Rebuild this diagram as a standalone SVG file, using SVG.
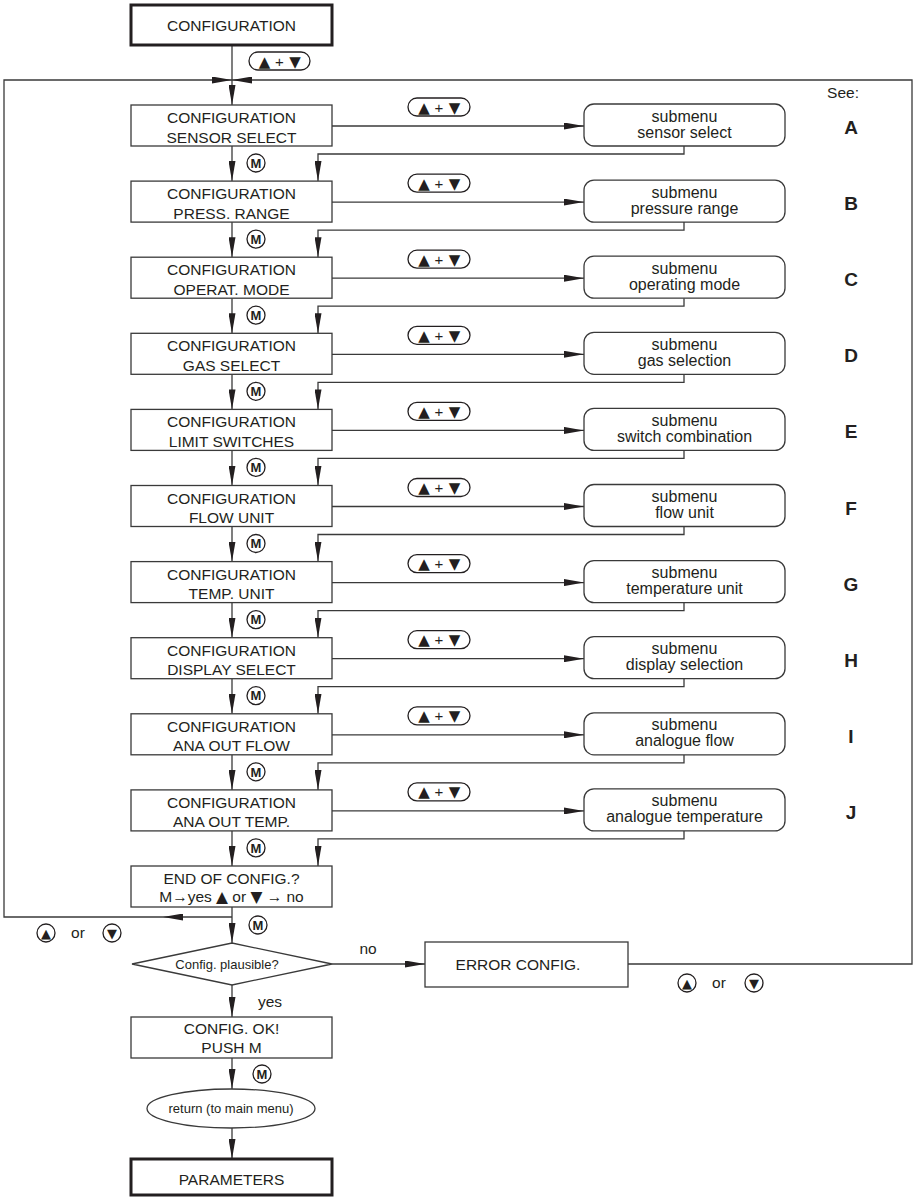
<svg xmlns="http://www.w3.org/2000/svg" width="917" height="1197" viewBox="0 0 917 1197">
<style>
text{font-family:"Liberation Sans","DejaVu Sans",Arial,sans-serif;fill:#231f20}
.t{font-size:15.5px;text-anchor:middle}
.s{font-size:16px;text-anchor:middle}
.sm{font-size:13px;text-anchor:middle}
.p{font-size:15px;text-anchor:middle}
.tri{font-family:"DejaVu Sans",sans-serif}
.lt{font-size:19px;font-weight:bold;text-anchor:middle}
.m{font-size:13px;font-weight:bold;text-anchor:middle}
.ic{font-size:13px;text-anchor:middle;font-family:"DejaVu Sans",sans-serif}
.box{fill:#fff;stroke:#3a3a3a;stroke-width:1.3}
.thick{fill:#fff;stroke:#231f20;stroke-width:3}
.sub{fill:#fff;stroke:#3a3a3a;stroke-width:1.3}
.pill{fill:#fff;stroke:#231f20;stroke-width:1.3}
.circ{fill:#fff;stroke:#231f20;stroke-width:1.3}
.ln{fill:none;stroke:#3a3a3a;stroke-width:1.3}
</style>
<defs>
<marker id="ah" markerUnits="userSpaceOnUse" markerWidth="20" markerHeight="7" refX="20" refY="3.5" orient="auto">
<path d="M0,0 L20,3.5 L0,7 Z" fill="#231f20"/>
</marker>
</defs>

<g id="connectors">
<path class="ln" d="M232,45 V105" marker-end="url(#ah)"/>
<path class="ln" d="M163,917 H4 V80 H232" marker-end="url(#ah)"/>
<path class="ln" d="M628,964 H912 V80 H232" marker-end="url(#ah)"/>
<path class="ln" d="M232,146 V181.1" marker-end="url(#ah)"/>
<path class="ln" d="M232,222.1 V257.2" marker-end="url(#ah)"/>
<path class="ln" d="M232,298.2 V333.3" marker-end="url(#ah)"/>
<path class="ln" d="M232,374.3 V409.4" marker-end="url(#ah)"/>
<path class="ln" d="M232,450.4 V485.5" marker-end="url(#ah)"/>
<path class="ln" d="M232,526.5 V561.6" marker-end="url(#ah)"/>
<path class="ln" d="M232,602.6 V637.7" marker-end="url(#ah)"/>
<path class="ln" d="M232,678.7 V713.8" marker-end="url(#ah)"/>
<path class="ln" d="M232,754.8 V789.9" marker-end="url(#ah)"/>
<path class="ln" d="M232,830.9 V866" marker-end="url(#ah)"/>
<path class="ln" d="M332,126 H584" marker-end="url(#ah)"/>
<path class="ln" d="M332,202.1 H584" marker-end="url(#ah)"/>
<path class="ln" d="M332,278.2 H584" marker-end="url(#ah)"/>
<path class="ln" d="M332,354.3 H584" marker-end="url(#ah)"/>
<path class="ln" d="M332,430.4 H584" marker-end="url(#ah)"/>
<path class="ln" d="M332,506.5 H584" marker-end="url(#ah)"/>
<path class="ln" d="M332,582.6 H584" marker-end="url(#ah)"/>
<path class="ln" d="M332,658.7 H584" marker-end="url(#ah)"/>
<path class="ln" d="M332,734.8 H584" marker-end="url(#ah)"/>
<path class="ln" d="M332,810.9 H584" marker-end="url(#ah)"/>
<path class="ln" d="M684,146 V154 H318 V181.1" marker-end="url(#ah)"/>
<path class="ln" d="M684,222.1 V230.1 H318 V257.2" marker-end="url(#ah)"/>
<path class="ln" d="M684,298.2 V306.2 H318 V333.3" marker-end="url(#ah)"/>
<path class="ln" d="M684,374.3 V382.3 H318 V409.4" marker-end="url(#ah)"/>
<path class="ln" d="M684,450.4 V458.4 H318 V485.5" marker-end="url(#ah)"/>
<path class="ln" d="M684,526.5 V534.5 H318 V561.6" marker-end="url(#ah)"/>
<path class="ln" d="M684,602.6 V610.6 H318 V637.7" marker-end="url(#ah)"/>
<path class="ln" d="M684,678.7 V686.7 H318 V713.8" marker-end="url(#ah)"/>
<path class="ln" d="M684,754.8 V762.8 H318 V789.9" marker-end="url(#ah)"/>
<path class="ln" d="M684,830.9 V838.9 H318 V866" marker-end="url(#ah)"/>
<path class="ln" d="M232,907 V943" marker-end="url(#ah)"/>
<path class="ln" d="M232,917 H163" marker-end="url(#ah)"/>
<path class="ln" d="M332,964 H425" marker-end="url(#ah)"/>
<path class="ln" d="M232,985 V1017" marker-end="url(#ah)"/>
<path class="ln" d="M232,1058 V1089" marker-end="url(#ah)"/>
<path class="ln" d="M232,1128 V1159" marker-end="url(#ah)"/>
</g>

<g id="labels">
<rect class="pill" x="249" y="52" width="61" height="18" rx="9"/>
<text class="p" y="66.5"><tspan class="tri" x="264.5">▲</tspan><tspan x="279.5">+</tspan><tspan class="tri" x="295">▼</tspan></text>
<text class="t" x="843" y="98">See:</text>
<g><rect class="pill" x="408" y="98" width="62" height="18" rx="9"/><text class="p" y="112.5"><tspan class="tri" x="424">▲</tspan><tspan x="439">+</tspan><tspan class="tri" x="454.5">▼</tspan></text></g>
<g><rect class="pill" x="408" y="174.1" width="62" height="18" rx="9"/><text class="p" y="188.6"><tspan class="tri" x="424">▲</tspan><tspan x="439">+</tspan><tspan class="tri" x="454.5">▼</tspan></text></g>
<g><rect class="pill" x="408" y="250.2" width="62" height="18" rx="9"/><text class="p" y="264.7"><tspan class="tri" x="424">▲</tspan><tspan x="439">+</tspan><tspan class="tri" x="454.5">▼</tspan></text></g>
<g><rect class="pill" x="408" y="326.3" width="62" height="18" rx="9"/><text class="p" y="340.8"><tspan class="tri" x="424">▲</tspan><tspan x="439">+</tspan><tspan class="tri" x="454.5">▼</tspan></text></g>
<g><rect class="pill" x="408" y="402.4" width="62" height="18" rx="9"/><text class="p" y="416.9"><tspan class="tri" x="424">▲</tspan><tspan x="439">+</tspan><tspan class="tri" x="454.5">▼</tspan></text></g>
<g><rect class="pill" x="408" y="478.5" width="62" height="18" rx="9"/><text class="p" y="493"><tspan class="tri" x="424">▲</tspan><tspan x="439">+</tspan><tspan class="tri" x="454.5">▼</tspan></text></g>
<g><rect class="pill" x="408" y="554.6" width="62" height="18" rx="9"/><text class="p" y="569.1"><tspan class="tri" x="424">▲</tspan><tspan x="439">+</tspan><tspan class="tri" x="454.5">▼</tspan></text></g>
<g><rect class="pill" x="408" y="630.7" width="62" height="18" rx="9"/><text class="p" y="645.2"><tspan class="tri" x="424">▲</tspan><tspan x="439">+</tspan><tspan class="tri" x="454.5">▼</tspan></text></g>
<g><rect class="pill" x="408" y="706.8" width="62" height="18" rx="9"/><text class="p" y="721.3"><tspan class="tri" x="424">▲</tspan><tspan x="439">+</tspan><tspan class="tri" x="454.5">▼</tspan></text></g>
<g><rect class="pill" x="408" y="782.9" width="62" height="18" rx="9"/><text class="p" y="797.4"><tspan class="tri" x="424">▲</tspan><tspan x="439">+</tspan><tspan class="tri" x="454.5">▼</tspan></text></g>

<g><circle class="circ" cx="256" cy="163" r="9"/><text class="m" x="256" y="167.7">M</text></g>
<g><circle class="circ" cx="256" cy="239.1" r="9"/><text class="m" x="256" y="243.8">M</text></g>
<g><circle class="circ" cx="256" cy="315.2" r="9"/><text class="m" x="256" y="319.9">M</text></g>
<g><circle class="circ" cx="256" cy="391.3" r="9"/><text class="m" x="256" y="396">M</text></g>
<g><circle class="circ" cx="256" cy="467.4" r="9"/><text class="m" x="256" y="472.1">M</text></g>
<g><circle class="circ" cx="256" cy="543.5" r="9"/><text class="m" x="256" y="548.2">M</text></g>
<g><circle class="circ" cx="256" cy="619.6" r="9"/><text class="m" x="256" y="624.3">M</text></g>
<g><circle class="circ" cx="256" cy="695.7" r="9"/><text class="m" x="256" y="700.4">M</text></g>
<g><circle class="circ" cx="256" cy="771.8" r="9"/><text class="m" x="256" y="776.5">M</text></g>
<g><circle class="circ" cx="256" cy="847.9" r="9"/><text class="m" x="256" y="852.6">M</text></g>
<g><circle class="circ" cx="258" cy="925" r="9"/><text class="m" x="258" y="929.7">M</text></g>
<g><circle class="circ" cx="262" cy="1074" r="9"/><text class="m" x="262" y="1078.7">M</text></g>

<g><circle class="circ" cx="46" cy="933" r="9"/><text class="ic" x="46" y="937.5">▲</text>
<text class="t" x="78" y="938">or</text>
<circle class="circ" cx="112" cy="933" r="9"/><text class="ic" x="112" y="937.5">▼</text></g>
<g><circle class="circ" cx="687" cy="983" r="9"/><text class="ic" x="687" y="987.5">▲</text>
<text class="t" x="719" y="988">or</text>
<circle class="circ" cx="754" cy="983" r="9"/><text class="ic" x="754" y="987.5">▼</text></g>

<text class="t" x="368" y="954">no</text>
<text class="t" x="270" y="1007">yes</text>

<text class="lt" x="851" y="134">A</text>
<text class="lt" x="851" y="210.1">B</text>
<text class="lt" x="851" y="286.2">C</text>
<text class="lt" x="851" y="362.3">D</text>
<text class="lt" x="851" y="438.4">E</text>
<text class="lt" x="851" y="514.5">F</text>
<text class="lt" x="851" y="590.6">G</text>
<text class="lt" x="851" y="666.7">H</text>
<text class="lt" x="851" y="742.8">I</text>
<text class="lt" x="851" y="818.9">J</text>
</g>

<g id="n-start"><rect class="thick" x="131" y="5" width="201" height="40"/><text class="t" x="231.5" y="30.5">CONFIGURATION</text></g>

<g id="n-sensor"><rect class="box" x="131" y="105" width="201" height="41"/><text class="t" x="231.5" y="123">CONFIGURATION</text><text class="t" x="231.5" y="142.5">SENSOR SELECT</text></g>
<g id="n-press"><rect class="box" x="131" y="181.1" width="201" height="41"/><text class="t" x="231.5" y="199.1">CONFIGURATION</text><text class="t" x="231.5" y="218.6">PRESS. RANGE</text></g>
<g id="n-operat"><rect class="box" x="131" y="257.2" width="201" height="41"/><text class="t" x="231.5" y="275.2">CONFIGURATION</text><text class="t" x="231.5" y="294.7">OPERAT. MODE</text></g>
<g id="n-gas"><rect class="box" x="131" y="333.3" width="201" height="41"/><text class="t" x="231.5" y="351.3">CONFIGURATION</text><text class="t" x="231.5" y="370.8">GAS SELECT</text></g>
<g id="n-limit"><rect class="box" x="131" y="409.4" width="201" height="41"/><text class="t" x="231.5" y="427.4">CONFIGURATION</text><text class="t" x="231.5" y="446.9">LIMIT SWITCHES</text></g>
<g id="n-flow"><rect class="box" x="131" y="485.5" width="201" height="41"/><text class="t" x="231.5" y="503.5">CONFIGURATION</text><text class="t" x="231.5" y="523">FLOW UNIT</text></g>
<g id="n-temp"><rect class="box" x="131" y="561.6" width="201" height="41"/><text class="t" x="231.5" y="579.6">CONFIGURATION</text><text class="t" x="231.5" y="599.1">TEMP. UNIT</text></g>
<g id="n-display"><rect class="box" x="131" y="637.7" width="201" height="41"/><text class="t" x="231.5" y="655.7">CONFIGURATION</text><text class="t" x="231.5" y="675.2">DISPLAY SELECT</text></g>
<g id="n-anaflow"><rect class="box" x="131" y="713.8" width="201" height="41"/><text class="t" x="231.5" y="731.8">CONFIGURATION</text><text class="t" x="231.5" y="751.3">ANA OUT FLOW</text></g>
<g id="n-anatemp"><rect class="box" x="131" y="789.9" width="201" height="41"/><text class="t" x="231.5" y="807.9">CONFIGURATION</text><text class="t" x="231.5" y="827.4">ANA OUT TEMP.</text></g>

<g id="s-a"><rect class="sub" x="584" y="104" width="201" height="42" rx="10"/><text class="s" x="684.5" y="121.5">submenu</text><text class="s" x="684.5" y="137.5">sensor select</text></g>
<g id="s-b"><rect class="sub" x="584" y="180.1" width="201" height="42" rx="10"/><text class="s" x="684.5" y="197.6">submenu</text><text class="s" x="684.5" y="213.6">pressure range</text></g>
<g id="s-c"><rect class="sub" x="584" y="256.2" width="201" height="42" rx="10"/><text class="s" x="684.5" y="273.7">submenu</text><text class="s" x="684.5" y="289.7">operating mode</text></g>
<g id="s-d"><rect class="sub" x="584" y="332.3" width="201" height="42" rx="10"/><text class="s" x="684.5" y="349.8">submenu</text><text class="s" x="684.5" y="365.8">gas selection</text></g>
<g id="s-e"><rect class="sub" x="584" y="408.4" width="201" height="42" rx="10"/><text class="s" x="684.5" y="425.9">submenu</text><text class="s" x="684.5" y="441.9">switch combination</text></g>
<g id="s-f"><rect class="sub" x="584" y="484.5" width="201" height="42" rx="10"/><text class="s" x="684.5" y="502">submenu</text><text class="s" x="684.5" y="518">flow unit</text></g>
<g id="s-g"><rect class="sub" x="584" y="560.6" width="201" height="42" rx="10"/><text class="s" x="684.5" y="578.1">submenu</text><text class="s" x="684.5" y="594.1">temperature unit</text></g>
<g id="s-h"><rect class="sub" x="584" y="636.7" width="201" height="42" rx="10"/><text class="s" x="684.5" y="654.2">submenu</text><text class="s" x="684.5" y="670.2">display selection</text></g>
<g id="s-i"><rect class="sub" x="584" y="712.8" width="201" height="42" rx="10"/><text class="s" x="684.5" y="730.3">submenu</text><text class="s" x="684.5" y="746.3">analogue flow</text></g>
<g id="s-j"><rect class="sub" x="584" y="788.9" width="201" height="42" rx="10"/><text class="s" x="684.5" y="806.4">submenu</text><text class="s" x="684.5" y="822.4">analogue temperature</text></g>

<g id="n-end"><rect class="box" x="131" y="866" width="201" height="41"/><text class="t" x="231.5" y="883.5">END OF CONFIG.?</text><text class="t" x="231.5" y="902">M→yes <tspan class="tri">▲</tspan> or <tspan class="tri">▼</tspan> → no</text></g>
<g id="n-plausible"><polygon class="box" points="132,964 232,943 332,964 232,985"/><text class="sm" x="227" y="969">Config. plausible?</text></g>
<g id="n-error"><rect class="box" x="425" y="942" width="203" height="45"/><text class="t" x="518" y="970">ERROR CONFIG.</text></g>
<g id="n-ok"><rect class="box" x="131" y="1017" width="201" height="41"/><text class="t" x="231.5" y="1034">CONFIG. OK!</text><text class="t" x="231.5" y="1053">PUSH M</text></g>
<g id="n-return"><ellipse class="box" cx="231" cy="1108.5" rx="84" ry="19.5"/><text class="sm" x="231" y="1113">return (to main menu)</text></g>
<g id="n-params"><rect class="thick" x="131" y="1159" width="201" height="36"/><text class="t" x="231.5" y="1185">PARAMETERS</text></g>
</svg>
